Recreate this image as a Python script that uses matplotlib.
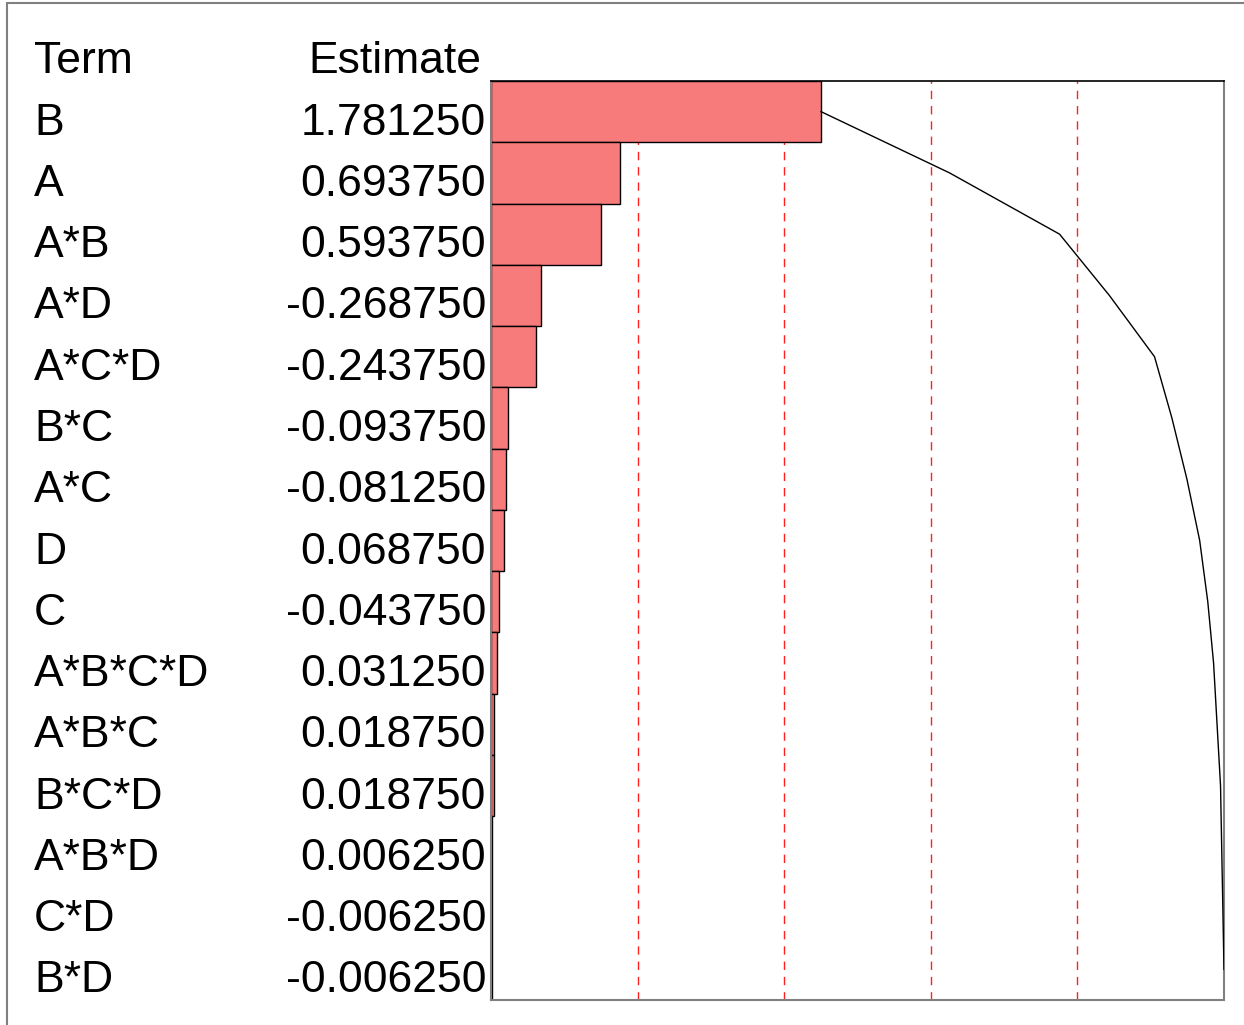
import numpy as np
import matplotlib.pyplot as plt
import matplotlib.transforms as transforms
from matplotlib.patches import Rectangle

plt.rcParams['font.family'] = ['Liberation Sans', 'DejaVu Sans']

terms = ['B', 'A', 'A*B', 'A*D', 'A*C*D', 'B*C', 'A*C', 'D', 'C',
         'A*B*C*D', 'A*B*C', 'B*C*D', 'A*B*D', 'C*D', 'B*D']
estimates = [1.781250, 0.693750, 0.593750, -0.268750, -0.243750, -0.093750,
             -0.081250, 0.068750, -0.043750, 0.031250, 0.018750, 0.018750,
             0.006250, -0.006250, -0.006250]

W, H = 1244, 1025
fig = plt.figure(figsize=(W / 100, H / 100), dpi=100)

# outer frame
fig.patches.append(Rectangle((7 / W, -0.1), 1.2, 1 - 3 / H + 0.1, transform=fig.transFigure,
                             fill=False, edgecolor='#808080', lw=1.5))

ax = fig.add_axes([491 / W, 25 / H, 733 / W, 919 / H])

abs_est = np.abs(estimates)
total = abs_est.sum()
cum = np.cumsum(abs_est)
rows = np.arange(len(terms)) + 0.5

for f in [0.2, 0.4, 0.6, 0.8]:
    ax.axvline(f * total, color='#ff2020', ls=(0, (6, 5)), lw=1, zorder=1)

ax.barh(rows, abs_est, height=1.0, color='#f77b7b', edgecolor='black', lw=1, zorder=2)
ax.plot(cum, rows, color='black', lw=1, zorder=3)

ax.set_xlim(0, total)
ax.set_ylim(len(terms), 0)
ax.set_xticks([])
ax.set_yticks([])
for side in ['left', 'right', 'bottom']:
    ax.spines[side].set_color('#808080')
    ax.spines[side].set_linewidth(1.5)
ax.spines['top'].set_color('black')
ax.spines['top'].set_linewidth(1.2)

# text columns, rows follow the bar axis
base = transforms.blended_transform_factory(fig.transFigure, ax.transData)
row_tr = transforms.offset_copy(base, fig=fig, y=-23, units='dots')
fs = 32
ax.text(34 / W, -0.5, 'Term', transform=row_tr, fontsize=fs, va='baseline', ha='left')
ax.text(308 / W, -0.5, 'Estimate', transform=row_tr, fontsize=fs, va='baseline', ha='left')
for y, t, e in zip(rows, terms, estimates):
    ax.text(34 / W, y, t, transform=row_tr, fontsize=fs, va='baseline', ha='left')
    ax.text(486 / W, y, f'{e:.6f}', transform=row_tr, fontsize=fs, va='baseline', ha='right')

fig.savefig('out.png', dpi=100)
